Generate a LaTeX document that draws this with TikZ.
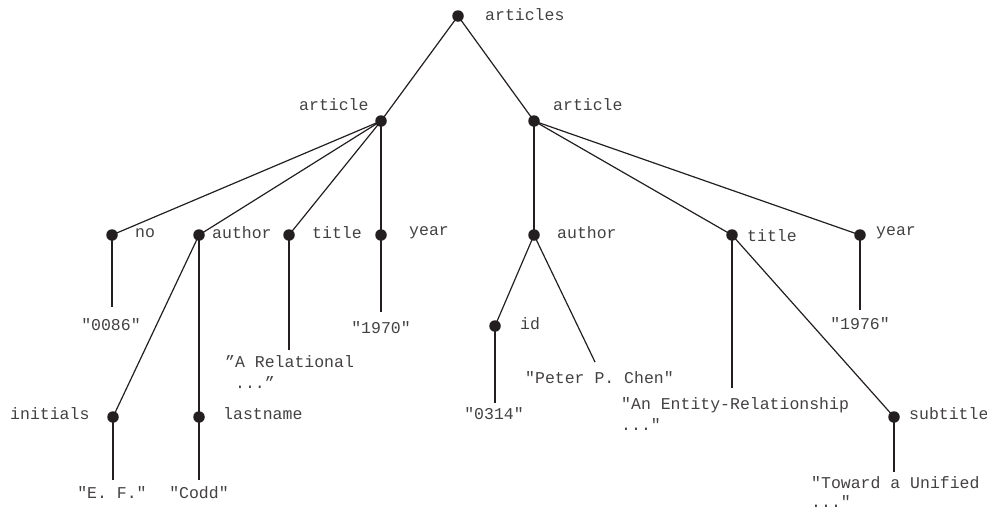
\documentclass[tikz,border=0pt]{standalone}
\usepackage{fontspec}
\setmonofont{Liberation Mono}
\definecolor{ink}{HTML}{231F20}
\begin{document}
\begin{tikzpicture}[x=1pt,y=-1pt,
  dot/.style={circle,fill=ink,draw=none,inner sep=0pt,minimum size=11.5pt},
  lab/.style={font=\ttfamily\fontsize{16.5}{21}\selectfont,text=ink!85,inner sep=0pt,anchor=west},
  val/.style={font=\ttfamily\fontsize{16.5}{21}\selectfont,text=ink!85,inner sep=0pt},
  edge/.style={draw=ink,line width=1.2pt}]
\useasboundingbox (0,0) rectangle (987,512);
% dots
\node[dot] (root) at (458,16) {};
\node[dot] (artL) at (381,121) {};
\node[dot] (artR) at (534,121) {};
\node[dot] (no) at (112,235) {};
\node[dot] (authL) at (199,235) {};
\node[dot] (titL) at (289,235) {};
\node[dot] (yearL) at (381,235) {};
\node[dot] (authR) at (534,235) {};
\node[dot] (titR) at (732,235) {};
\node[dot] (yearR) at (860,235) {};
\node[dot] (id) at (495,326) {};
\node[dot] (init) at (113,417) {};
\node[dot] (last) at (199,417) {};
\node[dot] (sub) at (894,417) {};
% labels
\node[lab] (lroot) at (485,15) {articles};
\node[lab] (lartL) at (299,105) {article};
\node[lab] (lartR) at (553,105) {article};
\node[lab] (lno) at (135,233) {no};
\node[lab] (lauthL) at (212,233) {author};
\node[lab] (ltitL) at (312,233) {title};
\node[lab] (lyearL) at (409,233) {year};
\node[lab] (lauthR) at (557,233) {author};
\node[lab] (ltitR) at (747,236) {title};
\node[lab] (lyearR) at (876,233) {year};
\node[lab] (lid) at (520,324) {id};
\node[lab] (linit) at (10,414) {initials};
\node[lab] (llast) at (223,414) {lastname};
\node[lab] (lsub) at (909,414) {subtitle};
% values
\node[val] (v0086) at (111,325) {"0086"};
\node[val] (v1970) at (381,328) {"1970"};
\node[lab] (vrel1) at (225,362) {”A Relational};
\node[lab] (vrel2) at (225,383) {\hspace{0.6em}...”};
\node[val] (vef) at (112,493) {"E. F."};
\node[val] (vcodd) at (199,493) {"Codd"};
\node[val] (v0314) at (494,414) {"0314"};
\node[lab] (vchen) at (525,378) {"Peter P. Chen"};
\node[val] (v1976) at (860,324) {"1976"};
\node[lab] (vent1) at (621,405) {"An Entity-Relationship};
\node[lab] (vent2) at (621,425) {..."};
\node[lab] (vtow1) at (811,483) {"Toward a Unified};
\node[lab] (vtow2) at (811,502) {..."};
% line ends
\coordinate (e0086) at (112,307);
\coordinate (e1970) at (381,312);
\coordinate (erel) at (289,350);
\coordinate (eef) at (113,480);
\coordinate (ecodd) at (199,480);
\coordinate (e0314) at (495,403);
\coordinate (echen) at (595,362);
\coordinate (e1976) at (860,310);
\coordinate (eent) at (732,388);
\coordinate (etow) at (894,472);
% edges
\draw[edge] (root.center) -- (artL.center);
\draw[edge] (root.center) -- (artR.center);
\draw[edge] (artL.center) -- (no.center);
\draw[edge] (artL.center) -- (authL.center);
\draw[edge] (artL.center) -- (titL.center);
\draw[edge] (artL.center) -- (yearL.center);
\draw[edge] (artR.center) -- (authR.center);
\draw[edge] (artR.center) -- (titR.center);
\draw[edge] (artR.center) -- (yearR.center);
\draw[edge] (authL.center) -- (init.center);
\draw[edge] (authL.center) -- (last.center);
\draw[edge] (authR.center) -- (id.center);
\draw[edge] (authR.center) -- (echen);
\draw[edge] (titR.center) -- (sub.center);
\draw[edge] (no.center) -- (e0086);
\draw[edge] (yearL.center) -- (e1970);
\draw[edge] (titL.center) -- (erel);
\draw[edge] (init.center) -- (eef);
\draw[edge] (last.center) -- (ecodd);
\draw[edge] (id.center) -- (e0314);
\draw[edge] (yearR.center) -- (e1976);
\draw[edge] (titR.center) -- (eent);
\draw[edge] (sub.center) -- (etow);
\end{tikzpicture}
\end{document}
